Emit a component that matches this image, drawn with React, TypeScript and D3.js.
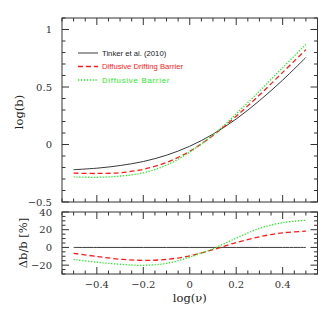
import React from 'react';
import * as d3 from 'd3';

// log(nu) sample points
const logNu = [-0.5, -0.4, -0.3, -0.2, -0.1, 0, 0.1, 0.2, 0.3, 0.4, 0.5];

// top panel: log(b)
const tinkerLogB = [-0.219, -0.206, -0.183, -0.148, -0.093, -0.015, 0.090, 0.222, 0.381, 0.560, 0.757];
const driftingLogB = [-0.249, -0.252, -0.245, -0.216, -0.156, -0.059, 0.079, 0.246, 0.430, 0.627, 0.825];
const barrierLogB = [-0.282, -0.285, -0.275, -0.246, -0.179, -0.066, 0.083, 0.266, 0.465, 0.668, 0.870];

// bottom panel: delta b / b in percent
const tinkerDelta = [0, 0, 0, 0, 0, 0, 0, 0, 0, 0, 0];
const driftingDelta = [-6.7, -10.2, -13.3, -14.6, -13.5, -9.5, -2.5, 5.5, 12, 16.5, 18.3];
const barrierDelta = [-13.5, -16.7, -19, -20.2, -18, -11, -1.5, 10.5, 21.5, 28, 30.7];

const xTickLabels = [-0.4, -0.2, 0, 0.2, 0.4];
const topTickLabels = [-0.5, 0, 0.5, 1];
const botTickLabels = [-20, 0, 20, 40];

const legendNames = ['Tinker et al. (2010)', 'Diffusive Drifting Barrier', 'Diffusive Barrier'];

const W = 335;
const H = 335;
const left = 62;
const right = 317.5;

const lineStyles = [
  { stroke: '#3a3a3a', dash: undefined, width: 1 },
  { stroke: '#ff1a1a', dash: '5,3', width: 1.3 },
  { stroke: '#22ee22', dash: '1.3,1.6', width: 1.3 },
];

const fmt = (v: number) => {
  const s = String(Math.round(v * 10) / 10);
  return s.replace('-', '\u2212');
};

const x = d3.scaleLinear().domain([-0.55, 0.55]).range([left, right]);
const yTop = d3.scaleLinear().domain([-0.5, 1.1]).range([202, 18]);
const yBot = d3.scaleLinear().domain([-30, 40]).range([274, 212]);

const serif = 'DejaVu Serif';
const frameColor = '#333';

function Frame({ y, yMinor, yMajor }: { y: d3.ScaleLinear<number, number>; yMinor: number; yMajor: number }) {
  const [y0, y1] = y.domain();
  const top = y.range()[1];
  const bottom = y.range()[0];
  const xMinorTicks = d3.range(-0.55, 0.5501, 0.05).map((v) => Math.round(v * 100) / 100);
  const yTicks = d3.range(Math.ceil(y0 / yMinor) * yMinor, y1 + 1e-9, yMinor).map((v) => Math.round(v * 1000) / 1000);
  const isMajorX = (v: number) => Math.abs(v / 0.2 - Math.round(v / 0.2)) < 1e-6;
  const isMajorY = (v: number) => Math.abs(v / yMajor - Math.round(v / yMajor)) < 1e-6;
  return (
    <g stroke={frameColor} strokeWidth={1} fill="none">
      <rect x={left} y={top} width={right - left} height={bottom - top} />
      {xMinorTicks.map((v, i) => {
        const len = isMajorX(v) ? 7 : 3.5;
        return (
          <g key={'x' + i}>
            <line x1={x(v)} x2={x(v)} y1={bottom} y2={bottom - len} />
            <line x1={x(v)} x2={x(v)} y1={top} y2={top + len} />
          </g>
        );
      })}
      {yTicks.map((v, i) => {
        const len = isMajorY(v) ? 7 : 3.5;
        return (
          <g key={'y' + i}>
            <line x1={left} x2={left + len} y1={y(v)} y2={y(v)} />
            <line x1={right} x2={right - len} y1={y(v)} y2={y(v)} />
          </g>
        );
      })}
    </g>
  );
}

export default function App() {
  const topSeries = [tinkerLogB, driftingLogB, barrierLogB];
  const botSeries = [tinkerDelta, driftingDelta, barrierDelta];

  const lineTop = d3
    .line<number>()
    .x((_, i) => x(logNu[i]))
    .y((d) => yTop(d))
    .curve(d3.curveCatmullRom.alpha(0.5));
  const lineBot = d3
    .line<number>()
    .x((_, i) => x(logNu[i]))
    .y((d) => yBot(d))
    .curve(d3.curveCatmullRom.alpha(0.5));

  return (
    <svg width={W} height={H} style={{ position: 'absolute', left: 0, top: 0, background: '#fff' }}>
      {/* curves */}
      {topSeries.map((s, i) => (
        <path
          key={'t' + i}
          d={lineTop(s) || ''}
          fill="none"
          stroke={lineStyles[i].stroke}
          strokeWidth={lineStyles[i].width}
          strokeDasharray={lineStyles[i].dash}
        />
      ))}
      {botSeries.map((s, i) => (
        <path
          key={'b' + i}
          d={lineBot(s) || ''}
          fill="none"
          stroke={lineStyles[i].stroke}
          strokeWidth={lineStyles[i].width}
          strokeDasharray={lineStyles[i].dash}
        />
      ))}

      <Frame y={yTop} yMinor={0.1} yMajor={0.5} />
      <Frame y={yBot} yMinor={5} yMajor={20} />

      {/* tick labels */}
      <g fontFamily={serif} fontSize={10} fill="#333">
        {topTickLabels.map((v) => (
          <text key={'tl' + v} x={52} y={yTop(v)} dy="0.36em" textAnchor="end">
            {fmt(v)}
          </text>
        ))}
        {botTickLabels.map((v) => (
          <text key={'bl' + v} x={52} y={yBot(v)} dy="0.36em" textAnchor="end">
            {fmt(v)}
          </text>
        ))}
        {xTickLabels.map((v) => (
          <text key={'xl' + v} x={x(v)} y={288} textAnchor="middle">
            {fmt(v)}
          </text>
        ))}
      </g>

      {/* axis titles */}
      <g fontFamily={serif} fontSize={11.5} fill="#222">
        <text x={x(0)} y={302} textAnchor="middle">log(ν)</text>
        <text transform={`translate(23,${(yTop(-0.5) + yTop(1.1)) / 2 + 2}) rotate(-90)`} textAnchor="middle">
          log(b)
        </text>
        <text transform={`translate(27,${(yBot(-30) + yBot(40)) / 2}) rotate(-90)`} textAnchor="middle">
          Δb/b [%]
        </text>
      </g>

      {/* legend */}
      <g fontFamily="Liberation Sans" fontSize={7.7}>
        {legendNames.map((name, i) => {
          const ly = 53 + i * 13.5;
          return (
            <g key={name}>
              <line
                x1={78}
                x2={98}
                y1={ly}
                y2={ly}
                stroke={lineStyles[i].stroke}
                strokeWidth={lineStyles[i].width}
                strokeDasharray={lineStyles[i].dash}
              />
              <text
                x={102}
                y={ly}
                dy="0.35em"
                fill={i === 0 ? '#222' : lineStyles[i].stroke}
                letterSpacing={i === 2 ? 0.8 : 0}
              >
                {name}
              </text>
            </g>
          );
        })}
      </g>
    </svg>
  );
}
